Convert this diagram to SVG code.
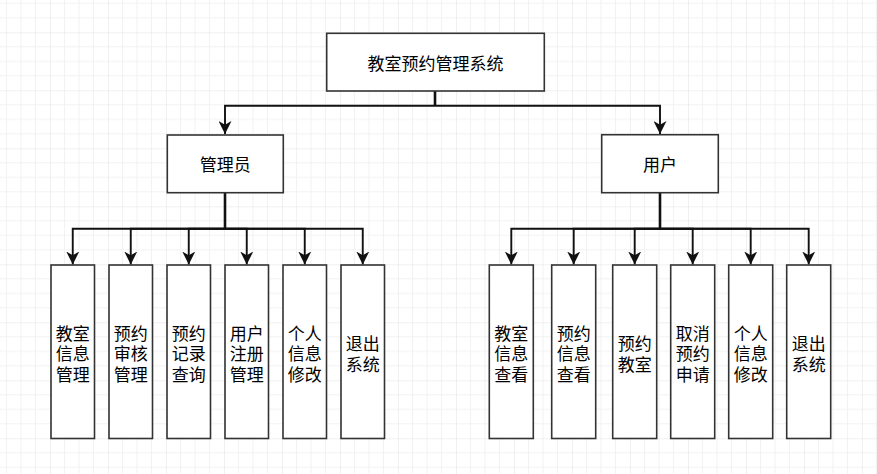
<svg xmlns="http://www.w3.org/2000/svg" width="877" height="474" viewBox="0 0 877 474">
<style>
.box{fill:#fff;stroke:#333;stroke-width:1.6}
.t{font-family:"Noto Sans CJK SC","Noto Sans",sans-serif;font-size:17px;fill:#000;text-anchor:middle;dominant-baseline:central}
.c{fill:none;stroke:#111;stroke-width:1.9;marker-end:url(#arr)}
.trunk{fill:none;stroke:#111;stroke-width:2.6}
</style>
<defs>
<pattern id="grid" patternUnits="userSpaceOnUse" x="50" y="32.3" width="58" height="58">
<path d="M14.5,0V58M29,0V58M43.5,0V58M0,14.5H58M0,29H58M0,43.5H58" stroke="#f2f2f2" stroke-width="1" fill="none"/>
<path d="M0,0V58M0,0H58" stroke="#e2e2e2" stroke-width="1" fill="none"/>
</pattern>
<marker id="arr" markerUnits="userSpaceOnUse" viewBox="0 0 13 13" refX="13" refY="6.5" markerWidth="13" markerHeight="13" orient="auto">
<path d="M13,6.5L0,0L3.8,6.5L0,13Z" fill="#111"/>
</marker>
</defs>
<rect width="877" height="474" fill="#fff"/>
<rect width="877" height="474" fill="url(#grid)"/>
<g id="connectors">
<path class="trunk" d="M435,91V105.7"/>
<path class="c" d="M435,105.7H225V134"/>
<path class="c" d="M435,105.7H660V134"/>
<path class="trunk" d="M225,192.7V228.7"/>
<path class="c" d="M225,228.7H72.75V264.5"/>
<path class="c" d="M225,228.7H130.75V264.5"/>
<path class="c" d="M225,228.7H188.75V264.5"/>
<path class="c" d="M225,228.7H246.75V264.5"/>
<path class="c" d="M225,228.7H304.75V264.5"/>
<path class="c" d="M225,228.7H362.75V264.5"/>
<path class="trunk" d="M660,192.7V228.7"/>
<path class="c" d="M660,228.7H511.3V264.5"/>
<path class="c" d="M660,228.7H573.7V264.5"/>
<path class="c" d="M660,228.7H634.7V264.5"/>
<path class="c" d="M660,228.7H692.7V264.5"/>
<path class="c" d="M660,228.7H750.7V264.5"/>
<path class="c" d="M660,228.7H808.7V264.5"/>
</g>
<g id="root"><rect class="box" x="326.7" y="33.3" width="217.6" height="57.7"/><text class="t" x="435.5" y="62.5">教室预约管理系统</text></g>
<g id="admin"><rect class="box" x="167.3" y="135" width="116" height="57.7"/><text class="t" x="225.3" y="163.5">管理员</text></g>
<g id="user"><rect class="box" x="601.7" y="134.7" width="116.6" height="58"/><text class="t" x="660" y="163.5">用户</text></g>
<g id="a1"><rect class="box" x="51" y="265" width="43.5" height="173.5"/><text class="t" x="72.75"><tspan x="72.75" y="331.5">教室</tspan><tspan x="72.75" y="352.3">信息</tspan><tspan x="72.75" y="373.1">管理</tspan></text></g>
<g id="a2"><rect class="box" x="109" y="265" width="43.5" height="173.5"/><text class="t" x="130.75"><tspan x="130.75" y="331.5">预约</tspan><tspan x="130.75" y="352.3">审核</tspan><tspan x="130.75" y="373.1">管理</tspan></text></g>
<g id="a3"><rect class="box" x="167" y="265" width="43.5" height="173.5"/><text class="t" x="188.75"><tspan x="188.75" y="331.5">预约</tspan><tspan x="188.75" y="352.3">记录</tspan><tspan x="188.75" y="373.1">查询</tspan></text></g>
<g id="a4"><rect class="box" x="225" y="265" width="43.5" height="173.5"/><text class="t" x="246.75"><tspan x="246.75" y="331.5">用户</tspan><tspan x="246.75" y="352.3">注册</tspan><tspan x="246.75" y="373.1">管理</tspan></text></g>
<g id="a5"><rect class="box" x="283" y="265" width="43.5" height="173.5"/><text class="t" x="304.75"><tspan x="304.75" y="331.5">个人</tspan><tspan x="304.75" y="352.3">信息</tspan><tspan x="304.75" y="373.1">修改</tspan></text></g>
<g id="a6"><rect class="box" x="341" y="265" width="43.5" height="173.5"/><text class="t" x="362.75"><tspan x="362.75" y="342">退出</tspan><tspan x="362.75" y="362.8">系统</tspan></text></g>
<g id="u1"><rect class="box" x="489.3" y="265" width="44" height="173.5"/><text class="t" x="511.3"><tspan x="511.3" y="331.5">教室</tspan><tspan x="511.3" y="352.3">信息</tspan><tspan x="511.3" y="373.1">查看</tspan></text></g>
<g id="u2"><rect class="box" x="551.7" y="265" width="44" height="173.5"/><text class="t" x="573.7"><tspan x="573.7" y="331.5">预约</tspan><tspan x="573.7" y="352.3">信息</tspan><tspan x="573.7" y="373.1">查看</tspan></text></g>
<g id="u3"><rect class="box" x="612.7" y="265" width="44" height="173.5"/><text class="t" x="634.7"><tspan x="634.7" y="342">预约</tspan><tspan x="634.7" y="362.8">教室</tspan></text></g>
<g id="u4"><rect class="box" x="670.7" y="265" width="44" height="173.5"/><text class="t" x="692.7"><tspan x="692.7" y="331.5">取消</tspan><tspan x="692.7" y="352.3">预约</tspan><tspan x="692.7" y="373.1">申请</tspan></text></g>
<g id="u5"><rect class="box" x="728.7" y="265" width="44" height="173.5"/><text class="t" x="750.7"><tspan x="750.7" y="331.5">个人</tspan><tspan x="750.7" y="352.3">信息</tspan><tspan x="750.7" y="373.1">修改</tspan></text></g>
<g id="u6"><rect class="box" x="786.7" y="265" width="44" height="173.5"/><text class="t" x="808.7"><tspan x="808.7" y="342">退出</tspan><tspan x="808.7" y="362.8">系统</tspan></text></g>
</svg>
